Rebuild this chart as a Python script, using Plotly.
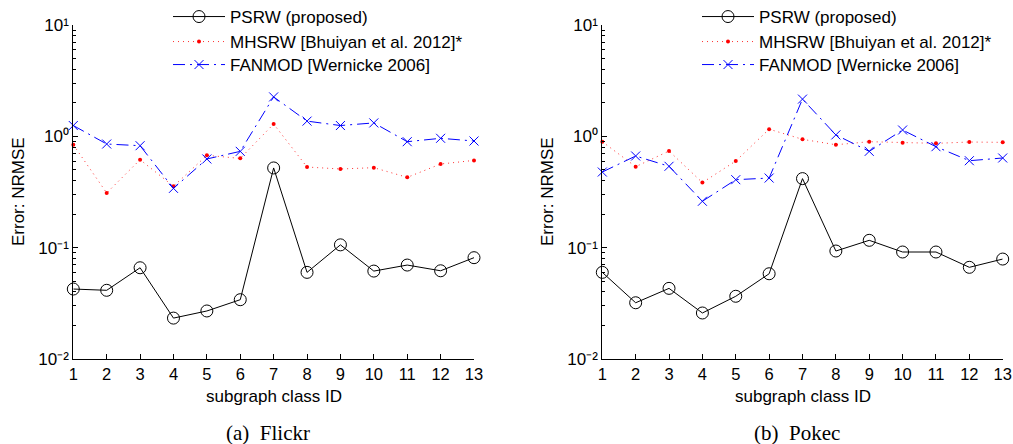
import plotly.graph_objects as go

class_ids = list(range(1, 14))

flickr_psrw = [0.0425, 0.0414, 0.066, 0.0233, 0.027, 0.0341, 0.52, 0.060, 0.106, 0.0616, 0.0698, 0.062, 0.0813]
flickr_mhsrw = [0.84, 0.31, 0.617, 0.356, 0.675, 0.634, 1.29, 0.53, 0.509, 0.523, 0.428, 0.564, 0.608]
flickr_fanmod = [1.25, 0.853, 0.824, 0.341, 0.626, 0.733, 2.26, 1.37, 1.25, 1.32, 0.895, 0.96, 0.908]

pokec_psrw = [0.060, 0.032, 0.0431, 0.0259, 0.0366, 0.0583, 0.417, 0.0933, 0.1164, 0.0914, 0.0914, 0.0666, 0.079]
pokec_mhsrw = [0.895, 0.534, 0.738, 0.384, 0.60, 1.16, 0.94, 0.84, 0.895, 0.877, 0.865, 0.889, 0.883]
pokec_fanmod = [0.478, 0.666, 0.538, 0.261, 0.408, 0.422, 2.16, 1.03, 0.733, 1.14, 0.807, 0.604, 0.639]

series_names = ["PSRW (proposed)", "MHSRW [Bhuiyan et al. 2012]*", "FANMOD [Wernicke 2006]"]
y_tickvals = [0.01, 0.1, 1, 10]
y_ticktext = ["10\u207b\u00b2", "10\u207b\u00b9", "10\u2070", "10\u00b9"]
captions = ["(a)  Flickr", "(b)  Pokec"]

W, H = 1013, 444
FONT = "Liberation Sans, Arial, sans-serif"
SERIF = "Liberation Serif, Times New Roman, serif"

fig = go.Figure()

styles = [
    dict(line=dict(color="black", width=1, dash="solid"),
         marker=dict(symbol="circle-open", size=12, color="black", line=dict(width=1, color="black"))),
    dict(line=dict(color="#ff3030", width=1, dash="1px,4px"),
         marker=dict(symbol="circle", size=4, color="red")),
    dict(line=dict(color="blue", width=1, dash="12px,5px,2px,5px"),
         marker=dict(symbol="x-thin-open", size=9, color="blue", line=dict(width=1, color="blue"))),
]

datasets = [
    (flickr_psrw, flickr_mhsrw, flickr_fanmod),
    (pokec_psrw, pokec_mhsrw, pokec_fanmod),
]

def legend_key(p, i):
    n = p * 3 + i + 1
    return "legend" if n == 1 else f"legend{n}"

for p, data in enumerate(datasets):
    sfx = "" if p == 0 else "2"
    for i, (name, vals) in enumerate(zip(series_names, data)):
        fig.add_trace(go.Scatter(
            x=class_ids, y=vals, name=name, mode="lines+markers",
            xaxis="x" + sfx, yaxis="y" + sfx,
            legend=legend_key(p, i),
            cliponaxis=False, **styles[i]))

def px_x(v):
    return v / W

def px_y(v):
    return 1 - v / H

x_domains = [[px_x(73.3), px_x(474)], [px_x(602.3), px_x(1002.7)]]
y_domain = [px_y(359), px_y(25)]

minor_vals = [k * 10 ** e for e in (-2, -1, 0) for k in range(2, 10)]

layout = dict(
    width=W, height=H,
    margin=dict(l=0, r=0, t=0, b=0, pad=0, autoexpand=False),
    paper_bgcolor="white", plot_bgcolor="white",
    font=dict(family=FONT, size=16, color="black"),
    showlegend=True,
)

for p in range(2):
    sfx = "" if p == 0 else "2"
    layout["xaxis" + sfx] = dict(
        domain=x_domains[p], anchor="y" + sfx, range=[1, 13], automargin=False,
        tickvals=class_ids, ticks="inside", ticklen=5, tickcolor="black",
        showline=True, linecolor="black", linewidth=1, mirror=False,
        showgrid=False, zeroline=False, tickfont=dict(size=16.5, family=FONT),
    )
    layout["yaxis" + sfx] = dict(
        domain=y_domain, anchor="x" + sfx, type="log", range=[-2, 1], automargin=False,
        tickvals=y_tickvals, ticktext=y_ticktext,
        ticks="inside", ticklen=5, tickcolor="black",
        minor=dict(tickvals=minor_vals, ticks="inside", ticklen=3, tickcolor="black", showgrid=False),
        showline=True, linecolor="black", linewidth=1, mirror=False,
        showgrid=False, zeroline=False, tickfont=dict(size=17, family=FONT),
    )

leg_x = [px_x(168), px_x(697)]
row_centers = [16, 41, 64]
for p in range(2):
    for i in range(3):
        layout[legend_key(p, i)] = dict(
            x=leg_x[p], y=px_y(row_centers[i] - 17), xanchor="left", yanchor="top",
            bgcolor="rgba(0,0,0,0)", borderwidth=0,
            font=dict(family=FONT, size=17, color="black"),
            itemwidth=52,
        )

fig.update_layout(**layout)

for p in range(2):
    # x-axis title
    fig.add_annotation(text="subgraph class ID", xref="paper", yref="paper",
                       x=px_x(273.5 + 529 * p), y=px_y(396), xanchor="center", yanchor="middle",
                       showarrow=False, font=dict(family=FONT, size=17))
    # y-axis title
    fig.add_annotation(text="Error: NRMSE", xref="paper", yref="paper",
                       x=px_x(18 + 529 * p), y=px_y(192), xanchor="center", yanchor="middle",
                       textangle=-90, showarrow=False, font=dict(family=FONT, size=17))
    # caption
    fig.add_annotation(text=captions[p], xref="paper", yref="paper",
                       x=px_x(268 + 529 * p), y=px_y(433), xanchor="center", yanchor="middle",
                       showarrow=False, font=dict(family=SERIF, size=21))

fig.write_html("out.html")
